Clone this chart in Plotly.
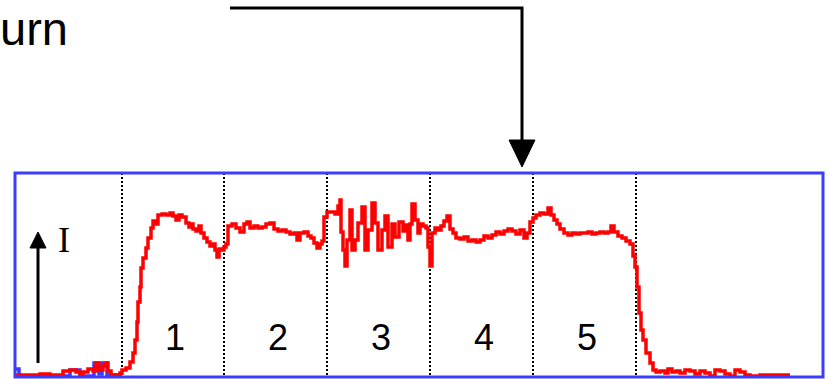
import plotly.graph_objects as go

# ---- data ----
time = [15, 20, 30, 40, 50, 62, 63, 70, 76, 80, 83, 88, 93, 96, 99, 103, 105, 108, 111, 118,
        120, 122, 126, 130, 133, 135, 137, 138, 140, 141, 143, 146, 148, 151, 153, 156, 158, 162, 166, 170,
        173, 176, 179, 182, 186, 189, 191, 193, 196, 199, 201, 204, 207, 210, 213, 215, 217, 219, 221, 224,
        226, 228, 232, 236, 240, 244, 247, 250, 254, 258, 262, 266, 270, 274, 278, 282, 286, 290, 294, 297,
        300, 304, 308, 311, 314, 317, 320, 322, 324, 327, 331, 335, 338, 340, 341, 343, 345, 347, 350, 352,
        355, 358, 362, 365, 368, 372, 375, 378, 382, 385, 388, 392, 395, 399, 403, 406, 408, 410, 412, 415,
        418, 420, 423, 426, 428, 430, 432, 435, 438, 441, 444, 447, 450, 453, 456, 460, 464, 468, 472, 476,
        480, 484, 488, 492, 496, 500, 504, 508, 512, 516, 520, 524, 527, 530, 533, 536, 540, 544, 548, 551,
        554, 557, 560, 564, 568, 572, 576, 580, 584, 588, 592, 596, 600, 604, 608, 611, 614, 618, 622, 626,
        630, 633, 635, 637, 639, 641, 643, 646, 650, 653, 656, 660, 665, 668, 672, 676, 680, 685, 690, 695,
        700, 705, 710, 715, 720, 725, 730, 735, 740, 745, 750, 760, 775, 790]
intensity = [2, 2, 2, 3, 2, 2, 6, 7, 5, 2, 5, 8, 6, 14, 7, 11, 14, 6, 2, 2,
             4, 7, 9, 15, 24, 37, 55, 75, 90, 109, 119, 129, 139, 149, 156, 153, 162, 163, 162, 164,
             161, 157, 162, 160, 154, 150, 153, 148, 146, 151, 144, 139, 135, 131, 133, 127, 120, 128, 127, 130,
             133, 151, 153, 149, 145, 153, 155, 149, 151, 149, 150, 153, 154, 148, 146, 147, 145, 143, 144, 137,
             144, 145, 141, 139, 134, 129, 133, 136, 160, 165, 165, 163, 171, 177, 145, 127, 111, 137, 167, 127,
             137, 154, 170, 127, 147, 174, 154, 127, 147, 161, 130, 153, 140, 155, 146, 152, 137, 153, 173, 157,
             144, 153, 151, 149, 130, 111, 144, 149, 147, 151, 156, 161, 148, 144, 139, 138, 140, 136, 137, 135,
             137, 141, 139, 142, 145, 143, 146, 148, 146, 143, 147, 139, 144, 155, 159, 162, 164, 163, 169, 162,
             157, 153, 148, 144, 142, 144, 143, 144, 144, 145, 143, 144, 145, 144, 145, 151, 145, 141, 139, 136,
             133, 121, 110, 90, 64, 47, 37, 24, 14, 7, 5, 6, 4, 8, 5, 6, 4, 7, 6, 3,
             6, 4, 1, 7, 6, 3, 1, 7, 5, 2, 1, 2, 2, 2]

ref_time = [15, 19, 70, 80, 94, 99, 102, 107, 122]
ref_intensity = [8, 1, 7, 1, 14, 3, 14, 2, 2]

boundaries = [122, 224, 327, 430, 533, 636]
segment_labels = ["1", "2", "3", "4", "5"]

# ---- figure ----
W, H = 828, 379
L, R, T, B = 15, 5, 173, 2
pw, ph = W - L - R, H - T - B


def px(x):
    return (x - L) / pw


def py(y):
    return (H - B - y) / ph


fig = go.Figure()
fig.add_trace(go.Scatter(x=ref_time, y=ref_intensity, mode="lines", line_shape="hv",
                         line=dict(color="#3c3cff", width=3.5), hoverinfo="skip"))
fig.add_trace(go.Scatter(x=time, y=intensity, mode="lines", line_shape="hv",
                         line=dict(color="#ff0000", width=3.5)))

annotations = []
for i, lab in enumerate(segment_labels):
    xc = (boundaries[i] + boundaries[i + 1]) / 2 + 2
    annotations.append(dict(x=xc, y=40, xref="x", yref="y", text=lab, showarrow=False,
                            xanchor="center", yanchor="middle",
                            font=dict(family="Liberation Sans, Arial", size=36, color="black")))

annotations.append(dict(x=px(64), y=py(240), xref="paper", yref="paper", text="I", showarrow=False,
                        xanchor="center", yanchor="middle",
                        font=dict(family="Liberation Serif, Times New Roman", size=36, color="black")))
annotations.append(dict(x=px(-2), y=py(28), xref="paper", yref="paper", text="urn", showarrow=False,
                        xanchor="left", yanchor="middle",
                        font=dict(family="Liberation Sans, Arial", size=47, color="black")))


def path(points, close=False):
    s = "M " + " L ".join(f"{px(a):.5f},{py(b):.5f}" for a, b in points)
    return s + (" Z" if close else "")


shapes = [
    dict(type="rect", xref="paper", yref="paper", x0=0, x1=1, y0=0, y1=1,
         line=dict(color="#3c3cff", width=3), layer="above"),
    dict(type="path", xref="paper", yref="paper", path=path([(230, 8), (522, 8), (522, 143)]),
         line=dict(color="black", width=3)),
    dict(type="path", xref="paper", yref="paper", path=path([(509, 140), (535, 140), (522, 167)], True),
         fillcolor="black", line=dict(color="black", width=1)),
    dict(type="path", xref="paper", yref="paper", path=path([(38, 363), (38, 246)]),
         line=dict(color="black", width=3)),
    dict(type="path", xref="paper", yref="paper", path=path([(30, 248), (46, 248), (38, 232)], True),
         fillcolor="black", line=dict(color="black", width=1)),
]

fig.update_layout(
    width=W, height=H, margin=dict(l=L, r=R, t=T, b=B),
    paper_bgcolor="white", plot_bgcolor="white", showlegend=False,
    annotations=annotations, shapes=shapes,
    xaxis=dict(range=[L, W - R], tickvals=boundaries, showticklabels=False, ticks="",
               showgrid=True, gridcolor="black", gridwidth=2, griddash="2px,2px", zeroline=False),
    yaxis=dict(range=[0, ph], showticklabels=False, showgrid=False, zeroline=False, ticks=""),
)

fig.write_html("out.html", config={"displayModeBar": False},
               post_script="document.body.style.margin='0';")
